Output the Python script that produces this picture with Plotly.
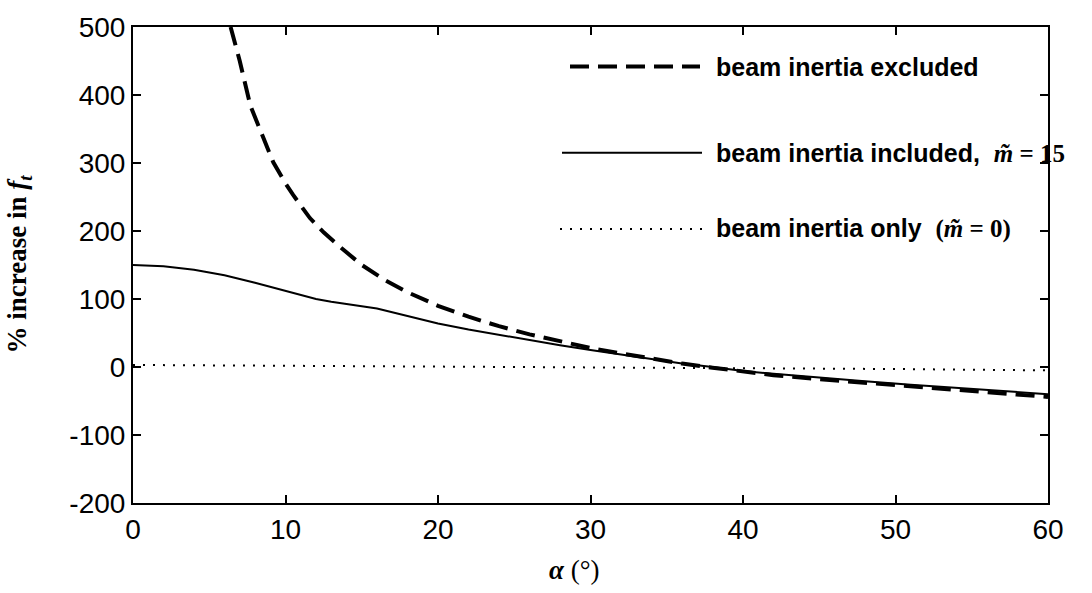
import plotly.graph_objects as go

# Angle alpha (degrees) and % increase in f_t for each case
alpha_excl = [6.4, 7.0, 7.7, 8.5, 9.2, 10.0, 10.5, 11.6, 12.5, 13.4, 15, 16.5, 18, 20, 22,
              24, 26, 28, 30, 32, 34, 36, 38, 40, 42, 45, 48, 51, 54, 57, 60]
incr_excl = [500, 450, 384, 340, 301, 270, 253, 219, 198, 180, 150, 128, 110, 90, 74,
             60, 48, 38, 28, 20, 12, 5, -1, -7, -12, -18, -23, -28, -33, -38, -44]

alpha_incl = [0, 2, 4, 6, 8, 10, 11, 12, 13, 14, 15, 16, 18, 20, 22, 24, 26, 28, 30,
              32, 34, 36, 38, 40, 42, 45, 48, 51, 54, 57, 60]
incr_incl = [150, 148, 143, 135, 124, 112, 105, 100, 96, 93, 90, 86, 75, 64, 55, 47, 40,
             32, 25, 18, 11, 5, 0, -6, -10, -16, -21, -26, -31, -35, -40]

alpha_only = [0, 10, 20, 30, 40, 50, 60]
incr_only = [3, 2, 1, 0, -1, -3, -5]

x_ticks = [0, 10, 20, 30, 40, 50, 60]
y_ticks = [-200, -100, 0, 100, 200, 300, 400, 500]

SANS = "Liberation Sans, Arial, sans-serif"
SERIF = "Liberation Serif, Times New Roman, serif"

DASH = "19px,9px"
DOT = "2px,8px"

fig = go.Figure()
fig.add_trace(go.Scatter(x=alpha_excl, y=incr_excl, mode="lines",
                         line=dict(color="black", width=4, dash=DASH), showlegend=False))
fig.add_trace(go.Scatter(x=alpha_incl, y=incr_incl, mode="lines",
                         line=dict(color="black", width=2), showlegend=False))
fig.add_trace(go.Scatter(x=alpha_only, y=incr_only, mode="lines",
                         line=dict(color="black", width=2, dash=DOT), showlegend=False))

W, H = 1092, 593
L, R, T, B = 133, 44, 22, 90
pw, ph = W - L - R, H - T - B


def px(xp):
    return (xp - L) / pw


def py(yp):
    return 1 - (yp - T) / ph


# Hand-drawn key: line sample + label for each curve
key_rows = [
    (62, dict(width=4, dash=DASH), 570, 700,
     "<b>beam inertia excluded</b>"),
    (149, dict(width=2), 562, 702,
     "<b>beam inertia included,</b>  <span style='font-family:%s'><b><i>m&#771;</i> = 15</b></span>" % SERIF),
    (226, dict(width=2, dash=DOT), 560, 702,
     "<b>beam inertia only</b>  <span style='font-family:%s'><b>(<i>m&#771;</i> = 0)</b></span>" % SERIF),
]
for yrow, lstyle, x0, x1, label in key_rows:
    fig.add_shape(type="line", xref="paper", yref="paper",
                  x0=px(x0), x1=px(x1), y0=py(yrow), y1=py(yrow),
                  line=dict(color="black", **lstyle))
    fig.add_annotation(xref="paper", yref="paper", x=px(714), y=py(yrow),
                       xanchor="left", yanchor="middle", showarrow=False,
                       text=label, font=dict(family=SANS, size=25, color="black"))

# Axis titles
fig.add_annotation(xref="paper", yref="paper", x=px(574), y=py(571),
                   xanchor="center", yanchor="middle", showarrow=False,
                   text="<b><i>α</i></b> (°)", font=dict(family=SERIF, size=27, color="black"))
fig.add_annotation(xref="paper", yref="paper", x=px(19), y=py(262),
                   xanchor="center", yanchor="middle", showarrow=False, textangle=-90,
                   text="<b>% increase in <i>f<sub>t</sub></i></b>",
                   font=dict(family=SERIF, size=27, color="black"))

axis_common = dict(
    showgrid=False, zeroline=False, showline=True, linecolor="black", linewidth=2,
    mirror="ticks", ticks="inside", ticklen=8, tickwidth=1.5, tickcolor="black",
    tickfont=dict(family=SANS, size=28, color="black"),
)
fig.update_xaxes(range=[0, 60], tickvals=x_ticks, ticktext=[str(v) for v in x_ticks],
                 **axis_common)
fig.update_yaxes(range=[-200, 500], tickvals=y_ticks, ticktext=[str(v) for v in y_ticks],
                 **axis_common)

fig.update_layout(
    width=W, height=H,
    margin=dict(l=L, r=R, t=T, b=B),
    paper_bgcolor="white", plot_bgcolor="white",
    showlegend=False,
)

fig.write_html("out.html")
